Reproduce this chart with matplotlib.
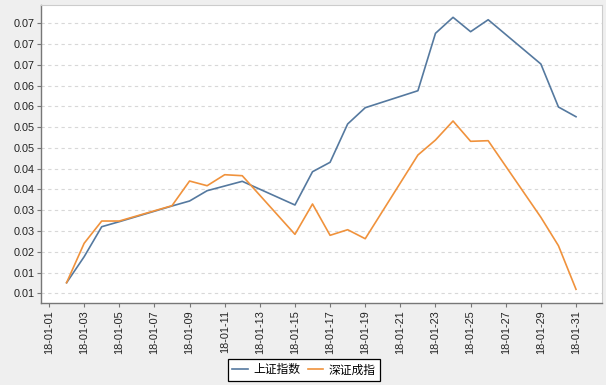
import matplotlib
matplotlib.use("Agg")
import matplotlib.pyplot as plt
import matplotlib.dates as mdates
from matplotlib.ticker import FixedLocator, FixedFormatter
import pandas as pd

plt.rcParams['font.family'] = ['Liberation Sans', 'Noto Sans CJK SC', 'DejaVu Sans']

dates = ["2018-01-02", "2018-01-03", "2018-01-04", "2018-01-05", "2018-01-08",
         "2018-01-09", "2018-01-10", "2018-01-11", "2018-01-12", "2018-01-15",
         "2018-01-16", "2018-01-17", "2018-01-18", "2018-01-19", "2018-01-22",
         "2018-01-23", "2018-01-24", "2018-01-25", "2018-01-26", "2018-01-29",
         "2018-01-30", "2018-01-31"]
sh_index = [0.01005, 0.01631, 0.02353, 0.02474, 0.02852, 0.02972, 0.0322, 0.03333,
            0.03446, 0.02876, 0.03677, 0.03904, 0.04826, 0.05218, 0.05627, 0.07009,
            0.07394, 0.07048, 0.07336, 0.0627, 0.05235, 0.05001]
sz_index = [0.01005, 0.01954, 0.0249, 0.0249, 0.02859, 0.03453, 0.0334, 0.03605,
            0.03581, 0.0217, 0.029, 0.02146, 0.02281, 0.02064, 0.04079, 0.0444,
            0.04898, 0.04409, 0.04424, 0.0258, 0.01896, 0.00846]
series_names = ["上证指数", "深证成指"]
y_ticks = [0.0075 + 0.005 * i for i in range(14)]
y_tick_labels = ["0.01", "0.01", "0.02", "0.03", "0.03", "0.04", "0.04",
                 "0.05", "0.05", "0.06", "0.06", "0.07", "0.07", "0.07"]
x_tick_dates = pd.date_range("2018-01-01", "2018-01-31", freq="2D")

x = pd.to_datetime(dates)

fig = plt.figure(figsize=(6.06, 3.85), dpi=100, facecolor="#efefef")
ax = fig.add_axes([0.0682, 0.2122, 0.9934 - 0.0682, 0.9878 - 0.2122])
ax.set_facecolor("white")

l1, = ax.plot(x, sh_index, color="#55799f", lw=1.2)
l2, = ax.plot(x, sz_index, color="#f0923c", lw=1.2)

ax.yaxis.set_major_locator(FixedLocator(y_ticks))
ax.yaxis.set_major_formatter(FixedFormatter(y_tick_labels))
ax.set_ylim(0.005093, 0.07698)

ax.set_xticks(x_tick_dates)
ax.xaxis.set_major_formatter(mdates.DateFormatter("%y-%m-%d"))
d0 = mdates.date2num(pd.Timestamp("2018-01-01"))
ax.set_xlim(d0 - 0.438, d0 + 31.48)
for lab in ax.get_xticklabels():
    lab.set_rotation(90)

ax.grid(axis="y", color="#d8d8d8", linestyle=(0, (3, 3)), lw=0.8)
ax.set_axisbelow(True)
ax.tick_params(axis="both", labelsize=7.8, colors="#222222", length=3,
               width=0.8, color="#777777", pad=2)
for side in ["left", "bottom"]:
    ax.spines[side].set_color("#777777")
    ax.spines[side].set_linewidth(1.0)
for side in ["top", "right"]:
    ax.spines[side].set_color("#cccccc")
    ax.spines[side].set_linewidth(0.8)

leg = fig.legend([l1, l2], series_names, loc="upper center",
                 bbox_to_anchor=(0.502, 0.0668), ncol=2, frameon=True,
                 fancybox=False, edgecolor="black", framealpha=1,
                 handlelength=1.3, handletextpad=0.5, columnspacing=0.6,
                 borderpad=0.35, borderaxespad=0.0,
                 prop={"family": ["Noto Sans CJK SC"], "size": 8.5})
leg.get_frame().set_linewidth(0.9)

fig.savefig("out.png", dpi=100, facecolor=fig.get_facecolor())
